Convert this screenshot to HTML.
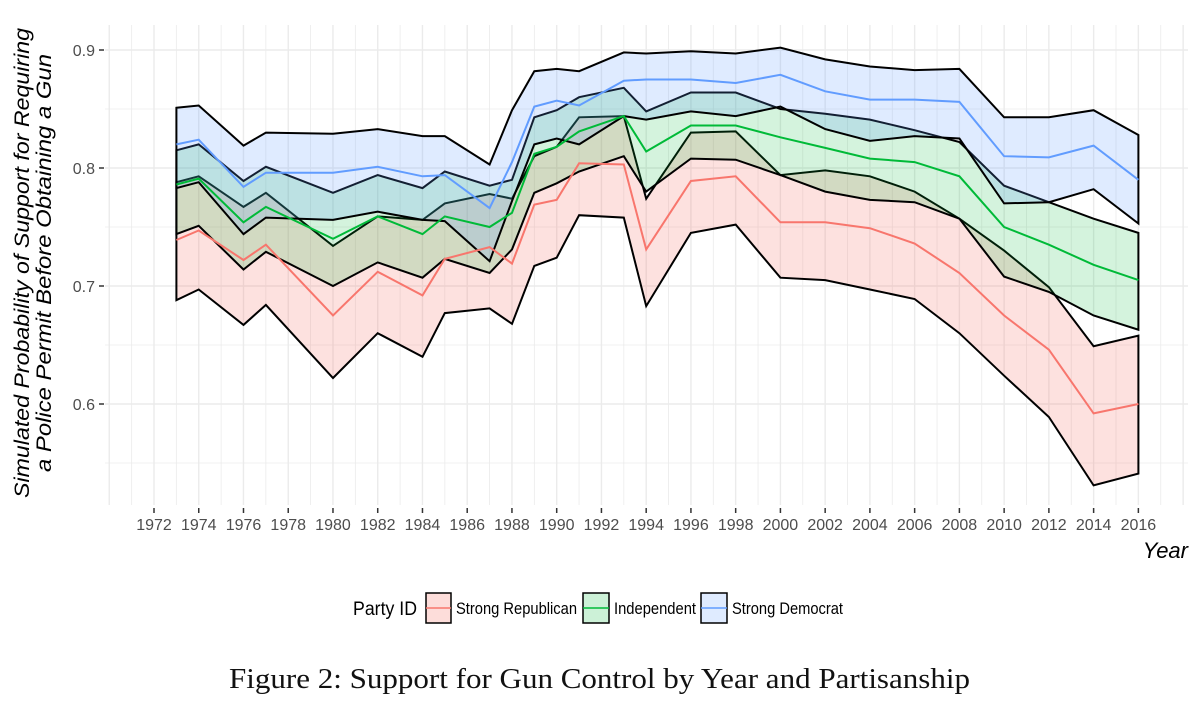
<!DOCTYPE html>
<html><head><meta charset="utf-8"><style>
html,body{margin:0;padding:0;background:#fff;}
svg{display:block;}
</style></head><body>
<svg id="chart" width="1200" height="715" viewBox="0 0 1200 715" xmlns="http://www.w3.org/2000/svg">
<rect x="0" y="0" width="1200" height="715" fill="#fff"/>
<g id="grid"></g>
<g id="ribbons"></g>
<g id="lines"></g>
<g id="axes"></g>
<text x="0" y="0" transform="translate(29,263) rotate(-90)" text-anchor="middle" textLength="470" lengthAdjust="spacingAndGlyphs" font-family="Liberation Sans, sans-serif" font-style="italic" font-size="21" fill="#000">Simulated Probability of Support for Requiring</text>
<text x="0" y="0" transform="translate(51,263) rotate(-90)" text-anchor="middle" textLength="418" lengthAdjust="spacingAndGlyphs" font-family="Liberation Sans, sans-serif" font-style="italic" font-size="21" fill="#000">a Police Permit Before Obtaining a Gun</text>
<text x="1188" y="558" text-anchor="end" font-family="Liberation Sans, sans-serif" font-style="italic" font-size="22" fill="#000">Year</text>
<g font-family="Liberation Sans, sans-serif">
<text x="353" y="615" font-size="19" textLength="64" lengthAdjust="spacingAndGlyphs" fill="#000">Party ID</text>
<g>
<rect x="426" y="593" width="25" height="30" fill="rgba(248,118,109,0.25)" stroke="#000" stroke-width="1.5"/>
<line x1="426" y1="608" x2="451" y2="608" stroke="#F8766D" stroke-width="1.5"/>
<text x="456" y="614" font-size="17" textLength="121" lengthAdjust="spacingAndGlyphs" fill="#000">Strong Republican</text></g>
<g>
<rect x="583" y="593" width="26" height="30" fill="rgba(0,186,56,0.2)" stroke="#000" stroke-width="1.5"/>
<line x1="583" y1="608" x2="609" y2="608" stroke="#00BA38" stroke-width="1.5"/>
<text x="614" y="614" font-size="17" textLength="82" lengthAdjust="spacingAndGlyphs" fill="#000">Independent</text></g>
<g>
<rect x="701" y="593" width="26" height="30" fill="rgba(97,156,255,0.2)" stroke="#000" stroke-width="1.5"/>
<line x1="701" y1="608" x2="727" y2="608" stroke="#619CFF" stroke-width="1.5"/>
<text x="732" y="614" font-size="17" textLength="111" lengthAdjust="spacingAndGlyphs" fill="#000">Strong Democrat</text></g>
</g>
<text x="229" y="688" textLength="741" lengthAdjust="spacingAndGlyphs" font-family="Liberation Serif, serif" font-size="28" fill="#111">Figure 2:  Support for Gun Control by Year and Partisanship</text>
</svg>
<script>
const years = [1973,1974,1976,1977,1980,1982,1984,1985,1987,1988,1989,1990,1991,1993,1994,1996,1998,2000,2002,2004,2006,2008,2010,2012,2014,2016];
const repMean = [0.739,0.747,0.722,0.735,0.675,0.712,0.692,0.723,0.733,0.719,0.769,0.773,0.804,0.803,0.731,0.789,0.793,0.754,0.754,0.749,0.736,0.711,0.675,0.646,0.592,0.600];
const repHi   = [0.788,0.793,0.767,0.779,0.734,0.759,0.756,0.770,0.778,0.774,0.810,0.818,0.843,0.844,0.774,0.830,0.831,0.794,0.798,0.793,0.780,0.757,0.730,0.699,0.649,0.658];
const repLo   = [0.688,0.697,0.667,0.684,0.622,0.660,0.640,0.677,0.681,0.668,0.717,0.724,0.760,0.758,0.683,0.745,0.752,0.707,0.705,0.697,0.689,0.660,0.624,0.589,0.531,0.541];
const indMean = [0.786,0.791,0.754,0.767,0.740,0.759,0.744,0.759,0.750,0.762,0.812,0.818,0.831,0.844,0.814,0.836,0.836,0.826,0.817,0.808,0.805,0.793,0.750,0.735,0.718,0.705];
const indHi   = [0.815,0.820,0.789,0.801,0.779,0.794,0.783,0.797,0.785,0.790,0.843,0.849,0.860,0.868,0.848,0.864,0.864,0.850,0.846,0.841,0.832,0.822,0.785,0.771,0.757,0.745];
const indLo   = [0.744,0.751,0.714,0.729,0.700,0.720,0.707,0.723,0.711,0.731,0.779,0.787,0.797,0.810,0.780,0.808,0.807,0.794,0.780,0.773,0.771,0.757,0.708,0.695,0.675,0.663];
const demMean = [0.820,0.824,0.784,0.796,0.796,0.801,0.793,0.794,0.766,0.805,0.852,0.857,0.853,0.874,0.875,0.875,0.872,0.879,0.865,0.858,0.858,0.856,0.810,0.809,0.819,0.790];
const demHi   = [0.851,0.853,0.819,0.830,0.829,0.833,0.827,0.827,0.803,0.849,0.882,0.884,0.882,0.898,0.897,0.899,0.897,0.902,0.892,0.886,0.883,0.884,0.843,0.843,0.849,0.828];
const demLo   = [0.783,0.788,0.744,0.758,0.756,0.763,0.756,0.755,0.721,0.772,0.820,0.825,0.820,0.844,0.841,0.848,0.844,0.852,0.833,0.823,0.827,0.825,0.770,0.771,0.782,0.753];
const xTicks = [1972,1974,1976,1978,1980,1982,1984,1986,1988,1990,1992,1994,1996,1998,2000,2002,2004,2006,2008,2010,2012,2014,2016];
const yTicks = [0.6,0.7,0.8,0.9];

const NS='http://www.w3.org/2000/svg';
const PL=105, PR=1188, PT=25, PB=505;
function xs(yr){return 154+(yr-1972)*22.372;}
function ys(v){return 50+(0.9-v)*1180;}
function mk(tag,attrs,parent){const e=document.createElementNS(NS,tag);for(const k in attrs)e.setAttribute(k,attrs[k]);parent.appendChild(e);return e;}

const grid=document.getElementById('grid');
for(let yr=1970;yr<=2019;yr++){
  const x=xs(yr); if(x<PL||x>PR)continue;
  const l=mk('line',{x1:x,x2:x,y1:PT,y2:PB,stroke:'#ebebeb','stroke-width':yr%2===0?1.4:0.8},grid);
  
  
}
for(let i=0;i<=8;i++){
  const v=0.55+i*0.05; const y=ys(v); if(y<PT||y>PB)continue;
  const l=mk('line',{x1:PL,x2:PR,y1:y,y2:y,stroke:'#ebebeb','stroke-width':(Math.round(v*100)%10===0)?1.4:0.8},grid);
  
  
}

const groups=[
 {name:'strong-republican',mean:repMean,hi:repHi,lo:repLo,col:'#F8766D',fill:'rgba(248,118,109,0.22)'},
 {name:'independent',mean:indMean,hi:indHi,lo:indLo,col:'#00BA38',fill:'rgba(0,186,56,0.17)'},
 {name:'strong-democrat',mean:demMean,hi:demHi,lo:demLo,col:'#619CFF',fill:'rgba(97,156,255,0.2)'}
];
const rib=document.getElementById('ribbons'), lines=document.getElementById('lines');
groups.forEach(g=>{
  let pts=years.map((yr,i)=>xs(yr).toFixed(1)+','+ys(g.hi[i]).toFixed(1));
  for(let i=years.length-1;i>=0;i--)pts.push(xs(years[i]).toFixed(1)+','+ys(g.lo[i]).toFixed(1));
  const p=mk('polygon',{points:pts.join(' '),fill:g.fill,stroke:'#000','stroke-width':2,'stroke-linejoin':'miter'},rib);
  
  
  const m=mk('polyline',{points:years.map((yr,i)=>xs(yr).toFixed(1)+','+ys(g.mean[i]).toFixed(1)).join(' '),fill:'none',stroke:g.col,'stroke-width':2},lines);
  
  
});

const axes=document.getElementById('axes');
xTicks.forEach(yr=>{
  const x=xs(yr);
  const t=mk('line',{x1:x,x2:x,y1:PB+3,y2:PB+8,stroke:'#333','stroke-width':1.5},axes);
  
  
  const tx=mk('text',{x:x,y:PB+25,'text-anchor':'middle','font-family':'Liberation Sans, sans-serif','font-size':16,fill:'#4d4d4d'},axes);
  tx.textContent=yr;
  
  
});
yTicks.forEach(v=>{
  const y=ys(v);
  const t=mk('line',{x1:PL-6,x2:PL-1,y1:y,y2:y,stroke:'#333','stroke-width':1.5},axes);
  
  
  const tx=mk('text',{x:PL-10,y:y+6,'text-anchor':'end','font-family':'Liberation Sans, sans-serif','font-size':16,fill:'#4d4d4d'},axes);
  tx.textContent=v.toFixed(1);
  
  
});
</script>
</body></html>
